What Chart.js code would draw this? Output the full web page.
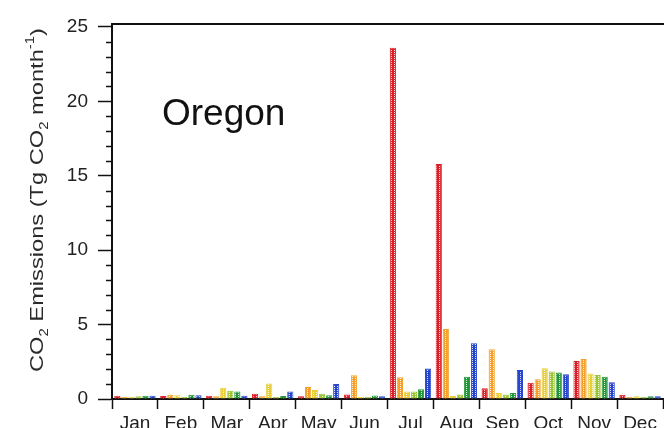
<!DOCTYPE html>
<html>
<head>
<meta charset="utf-8">
<script src="https://cdn.jsdelivr.net/npm/chart.js@4/dist/chart.umd.min.js"></script>
<style>
  html, body { margin: 0; padding: 0; background: #ffffff; overflow: hidden; }
  #wrap { width: 664px; height: 428px; position: relative; }
</style>
</head>
<body>
<div id="wrap"><canvas id="c" width="664" height="428"></canvas></div>
<script>
// Monthly CO2 emissions, Oregon (Tg CO2 per month), six series per month
const months = ['Jan', 'Feb', 'Mar', 'Apr', 'May', 'Jun', 'Jul', 'Aug', 'Sep', 'Oct', 'Nov', 'Dec'];

const redSeries    = [0.22, 0.20, 0.22, 0.35, 0.18, 0.30, 23.6, 15.8, 0.72, 1.10, 2.55, 0.28];
const orangeSeries = [0.15, 0.28, 0.18, 0.18, 0.80, 1.60, 1.46, 4.70, 3.35, 1.33, 2.68, 0.14];
const yellowSeries = [0.15, 0.25, 0.75, 1.05, 0.60, 0.14, 0.50, 0.20, 0.40, 2.06, 1.72, 0.18];
const limeSeries   = [0.18, 0.15, 0.55, 0.14, 0.35, 0.14, 0.50, 0.30, 0.30, 1.84, 1.61, 0.14];
const greenSeries  = [0.22, 0.28, 0.50, 0.20, 0.25, 0.24, 0.65, 1.50, 0.40, 1.78, 1.50, 0.18];
const blueSeries   = [0.22, 0.25, 0.22, 0.50, 1.00, 0.18, 2.05, 3.75, 1.95, 1.66, 1.12, 0.18];

const majorTicks = [0, 5, 10, 15, 20, 25];
const minorTicks = [1, 2, 3, 4, 6, 7, 8, 9, 11, 12, 13, 14, 16, 17, 18, 19, 21, 22, 23, 24];

const FONT = '"Liberation Sans", Arial, sans-serif';

// dotted fill: solid colour with a light hole in each 3x2 cell
function dotted(color) {
  const t = document.createElement('canvas');
  t.width = 3; t.height = 2;
  const g = t.getContext('2d');
  g.fillStyle = color;
  g.fillRect(0, 0, 3, 2);
  g.fillStyle = 'rgba(255,255,255,0.85)';
  g.fillRect(1, 0, 1, 1);
  return g.createPattern(t, 'repeat');
}

const colors = ['#dc1f26', '#f3a12c', '#e8cf3a', '#9cc434', '#23963a', '#2546cc'];
const series = [redSeries, orangeSeries, yellowSeries, limeSeries, greenSeries, blueSeries];

const datasets = series.map((d, i) => ({
  data: d,
  backgroundColor: dotted(colors[i]),
  borderColor: colors[i],
  borderWidth: 1,
  categoryPercentage: 0.92,
  barPercentage: 0.88
}));

// extra drawing: minor y ticks, top frame line, panel label, y-axis title
const decorations = {
  id: 'decorations',
  afterDraw(chart) {
    const ctx = chart.ctx;
    const y = chart.scales.y;
    const area = chart.chartArea;
    ctx.save();
    ctx.strokeStyle = '#111';
    ctx.lineWidth = 1.5;
    ctx.beginPath();
    minorTicks.forEach(v => {
      const py = Math.round(y.getPixelForValue(v)) + 0.5;
      ctx.moveTo(area.left - 6, py);
      ctx.lineTo(area.left, py);
    });
    ctx.stroke();

    // top frame line
    ctx.lineWidth = 2;
    ctx.beginPath();
    ctx.moveTo(area.left - 1, area.top);
    ctx.lineTo(chart.width, area.top);
    ctx.stroke();

    // panel label
    ctx.fillStyle = '#111';
    ctx.font = '37px ' + FONT;
    ctx.textBaseline = 'alphabetic';
    ctx.textAlign = 'left';
    ctx.fillText('Oregon', 162, 125);

    // y-axis title with sub/superscripts
    const parts = [
      { t: 'CO', k: 'n' }, { t: '2', k: 'sub' }, { t: ' Emissions (Tg CO', k: 'n' },
      { t: '2', k: 'sub' }, { t: ' month', k: 'n' }, { t: '-1', k: 'sup' }, { t: ')', k: 'n' }
    ];
    const size = 19;
    const small = 12;
    let total = 0;
    parts.forEach(p => {
      ctx.font = (p.k === 'n' ? size : small) + 'px ' + FONT;
      p.w = ctx.measureText(p.t).width;
      total += p.w;
    });
    const span = 344;
    const cx = 43, cy = 200;
    ctx.translate(cx, cy);
    ctx.rotate(-Math.PI / 2);
    ctx.scale(span / total, 1);
    let x = -total / 2;
    ctx.fillStyle = '#2a2a2a';
    parts.forEach(p => {
      ctx.font = (p.k === 'n' ? size : small) + 'px ' + FONT;
      const dy = p.k === 'sub' ? 5 : (p.k === 'sup' ? -9 : 0);
      ctx.fillText(p.t, x, dy);
      x += p.w;
    });
    ctx.restore();
  }
};

new Chart(document.getElementById('c'), {
  type: 'bar',
  data: { labels: months, datasets },
  options: {
    responsive: false,
    animation: false,
    events: [],
    layout: { padding: { top: 24, right: 1, left: 0, bottom: 0 } },
    plugins: { legend: { display: false }, tooltip: { enabled: false } },
    scales: {
      x: {
        type: 'category',
        offset: true,
        grid: {
          offset: true,
          drawOnChartArea: false,
          drawTicks: true,
          tickLength: 10,
          tickColor: '#111',
          tickWidth: 1.5
        },
        border: { display: true, color: '#111', width: 2 },
        ticks: {
          color: '#222',
          font: { family: FONT, size: 19 },
          padding: 3,
          maxRotation: 0,
          autoSkip: false
        },
        afterFit(scale) { scale.height = 29; }
      },
      y: {
        min: 0,
        max: 25.2,
        afterBuildTicks(scale) {
          scale.ticks = majorTicks.map(v => ({ value: v }));
        },
        grid: {
          drawOnChartArea: false,
          drawTicks: true,
          tickLength: 14,
          tickColor: '#111',
          tickWidth: 1.5
        },
        border: { display: true, color: '#111', width: 2 },
        ticks: {
          color: '#222',
          font: { family: FONT, size: 19 },
          padding: 10
        },
        afterFit(scale) { scale.width = 112; }
      }
    }
  },
  plugins: [decorations]
});
</script>
</body>
</html>
